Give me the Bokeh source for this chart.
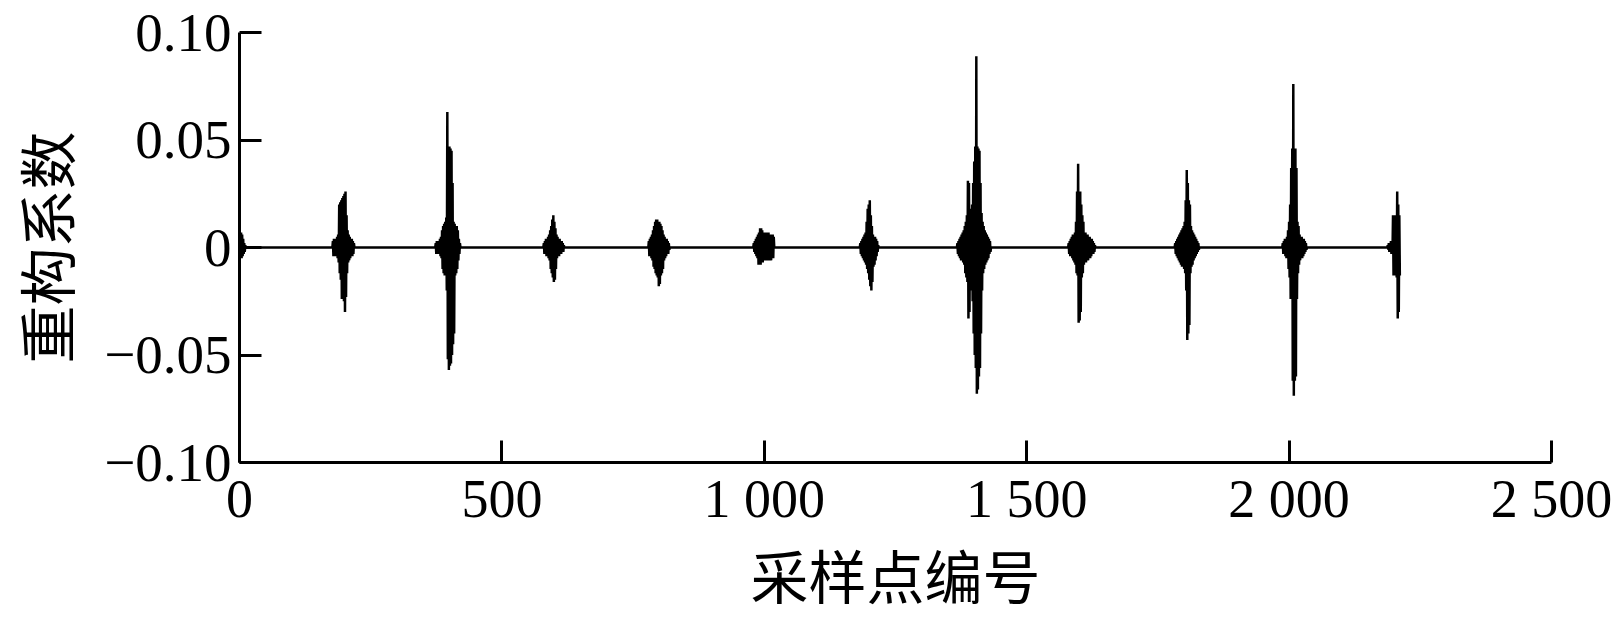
from bokeh.plotting import figure
from bokeh.models import Range1d, FixedTicker, ColumnDataSource
from bokeh.embed import file_html
from bokeh.resources import INLINE

# ---- data ----
x_ticks = [0, 500, 1000, 1500, 2000, 2500]
x_tick_labels = ["0", "500", "1 000", "1 500", "2 000", "2 500"]
y_ticks = [-0.1, -0.05, 0, 0.05, 0.1]
y_tick_labels = ["\u22120.10", "\u22120.05", "0", "0.05", "0.10"]
x_title = "采样点编号"
y_title = "重构系数"

burst_starts = [0, 177, 373, 579, 779, 979, 1182, 1367, 1579, 1782, 1987, 2187]

burst_0 = [0, 0.007, -0.005, 0.007, -0.005, 0.006, -0.004, 0.004, -0.003, 0.002, -0.002, 0.001, 0]
burst_200 = [0, 0.003, -0.004, 0.004, -0.004, 0.004, -0.004, 0.004, -0.004, 0.005, -0.005,
             0.006, -0.007, 0.020, -0.012, 0.021, -0.015, 0.022, -0.024, 0.023, -0.024,
             0.024, -0.025, 0.025, -0.030, 0.026, -0.023, 0.015, -0.012, 0.008, -0.007,
             0.006, -0.006, 0.005, -0.005, 0.004, -0.004, 0.004, -0.004, 0.003, -0.003,
             0.002, 0]
burst_400 = [0, 0.002, -0.003, 0.003, -0.003, 0.003, -0.003, 0.003, -0.003, 0.004, -0.004,
             0.005, -0.005, 0.008, -0.010, 0.010, -0.012, 0.011, -0.013, 0.012, -0.013,
             0.014, -0.020, 0.063, -0.052, 0.047, -0.057, 0.047, -0.055, 0.046, -0.054,
             0.045, -0.050, 0.030, -0.045, 0.012, -0.040, 0.011, -0.013, 0.010, -0.012,
             0.010, -0.010, 0.008, -0.006, 0.004, -0.003, 0.002, 0]
burst_600 = [0, 0.002, -0.003, 0.003, -0.003, 0.004, -0.004, 0.004, -0.004, 0.005, -0.005,
             0.006, -0.006, 0.008, -0.010, 0.010, -0.012, 0.013, -0.014, 0.015, -0.016,
             0.012, -0.015, 0.009, -0.010, 0.006, -0.005, 0.005, -0.004, 0.004, -0.004,
             0.004, -0.003, 0.003, -0.003, 0.003, -0.002, 0.002, -0.002, 0.001, 0]
burst_800 = [0, 0.003, -0.004, 0.004, -0.004, 0.005, -0.005, 0.006, -0.006, 0.008, -0.009,
             0.010, -0.010, 0.012, -0.012, 0.013, -0.013, 0.013, -0.014, 0.012, -0.018,
             0.012, -0.017, 0.011, -0.013, 0.010, -0.012, 0.008, -0.010, 0.006, -0.006,
             0.005, -0.005, 0.004, -0.004, 0.004, -0.003, 0.003, -0.003, 0.002, -0.001, 0]
burst_1000 = [0, 0.002, -0.002, 0.003, -0.003, 0.004, -0.004, 0.005, -0.005, 0.006, -0.008,
              0.007, -0.008, 0.009, -0.008, 0.009, -0.007, 0.008, -0.007, 0.007, -0.006,
              0.007, -0.006, 0.007, -0.006, 0.007, -0.006, 0.007, -0.006, 0.007, -0.006,
              0.006, -0.006, 0.006, -0.006, 0.006, -0.005, 0.006, -0.005, 0.005, 0]
burst_1200 = [0, 0.002, -0.003, 0.003, -0.004, 0.004, -0.005, 0.005, -0.006, 0.006, -0.007,
              0.007, -0.008, 0.012, -0.010, 0.018, -0.012, 0.020, -0.015, 0.022, -0.018,
              0.015, -0.020, 0.010, -0.016, 0.006, -0.009, 0.005, -0.008, 0.005, -0.006,
              0.004, -0.004, 0.003, -0.002, 0.001, 0]
burst_1400 = [0, 0.002, -0.003, 0.003, -0.004, 0.004, -0.005, 0.005, -0.006, 0.006, -0.006,
              0.007, -0.007, 0.008, -0.008, 0.010, -0.012, 0.012, -0.014, 0.015, -0.016,
              0.031, -0.033, 0.030, -0.030, 0.016, -0.018, 0.018, -0.020, 0.020, -0.025,
              0.030, -0.040, 0.040, -0.050, 0.047, -0.056, 0.089, -0.068, 0.047, -0.066,
              0.046, -0.060, 0.045, -0.056, 0.030, -0.040, 0.016, -0.020, 0.012, -0.012,
              0.010, -0.010, 0.008, -0.008, 0.007, -0.007, 0.006, -0.006, 0.005, -0.005,
              0.004, -0.003, 0.003, -0.002, 0]
burst_1600 = [0, 0.002, -0.003, 0.003, -0.004, 0.004, -0.004, 0.005, -0.005, 0.006, -0.006,
              0.006, -0.007, 0.007, -0.008, 0.012, -0.012, 0.026, -0.013, 0.039, -0.035,
              0.026, -0.034, 0.026, -0.030, 0.020, -0.014, 0.015, -0.012, 0.012, -0.008,
              0.007, -0.007, 0.007, -0.007, 0.006, -0.006, 0.006, -0.006, 0.005, -0.005,
              0.005, -0.005, 0.004, -0.004, 0.004, -0.003, 0.003, -0.003, 0.002, -0.002,
              0.001, 0]
burst_1800 = [0, 0.002, -0.003, 0.003, -0.004, 0.004, -0.005, 0.005, -0.006, 0.006, -0.007,
              0.007, -0.008, 0.008, -0.009, 0.009, -0.009, 0.010, -0.010, 0.012, -0.012,
              0.022, -0.020, 0.036, -0.043, 0.030, -0.040, 0.022, -0.036, 0.020, -0.012,
              0.010, -0.009, 0.008, -0.008, 0.007, -0.006, 0.006, -0.005, 0.005, -0.004,
              0.004, -0.003, 0.003, -0.002, 0.002, -0.001, 0]
burst_2000 = [0, 0.002, -0.003, 0.003, -0.003, 0.004, -0.004, 0.004, -0.005, 0.005, -0.005,
              0.008, -0.010, 0.012, -0.014, 0.020, -0.024, 0.037, -0.024, 0.046, -0.062,
              0.076, -0.069, 0.046, -0.062, 0.046, -0.060, 0.037, -0.024, 0.012, -0.012,
              0.010, -0.008, 0.006, -0.006, 0.005, -0.005, 0.005, -0.005, 0.004, -0.004,
              0.004, -0.003, 0.003, -0.002, 0.002, -0.001, 0]
burst_2200 = [0, 0.001, -0.001, 0.002, -0.002, 0.002, -0.002, 0.003, -0.003, 0.003, -0.003,
              0.015, -0.013, 0.015, -0.013, 0.015, -0.013, 0.015, -0.014, 0.026, -0.033,
              0.020, -0.030, 0.015, -0.013]

bursts = [burst_0, burst_200, burst_400, burst_600, burst_800, burst_1000,
          burst_1200, burst_1400, burst_1600, burst_1800, burst_2000, burst_2200]

xs, ys = [], []
for start, vals in zip(burst_starts, bursts):
    for i, v in enumerate(vals):
        xs.append(start + i)
        ys.append(v)

source = ColumnDataSource(data=dict(x=xs, y=ys))

# ---- figure ----
p = figure(width=1616, height=618,
           x_range=Range1d(0, 2500), y_range=Range1d(-0.1, 0.1),
           output_backend="svg", toolbar_location=None,
           min_border_left=238, min_border_right=65,
           min_border_top=32, min_border_bottom=155)

p.line("x", "y", source=source, line_color="black", line_width=2.5)

p.grid.visible = False
p.outline_line_color = None
p.background_fill_color = "white"
p.border_fill_color = "white"

p.xaxis.ticker = FixedTicker(ticks=x_ticks)
p.xaxis.major_label_overrides = dict(zip(x_ticks, x_tick_labels))
p.yaxis.ticker = FixedTicker(ticks=y_ticks)
p.yaxis.major_label_overrides = dict(zip(y_ticks, y_tick_labels))

for ax in (p.xaxis, p.yaxis):
    ax.axis_line_width = 3
    ax.axis_line_color = "black"
    ax.major_tick_line_width = 3
    ax.major_tick_line_color = "black"
    ax.major_tick_in = 22
    ax.major_tick_out = 0
    ax.minor_tick_line_color = None
    ax.major_label_text_font = "Liberation Serif"
    ax.major_label_text_color = "black"
    ax.axis_label_text_font = "Noto Sans CJK SC"
    ax.axis_label_text_font_size = "58px"
    ax.axis_label_text_font_style = "normal"
    ax.axis_label_text_color = "black"

p.xaxis.axis_label = x_title
p.yaxis.axis_label = y_title
p.xaxis.major_label_text_font_size = "54px"
p.yaxis.major_label_text_font_size = "55px"
p.xaxis.major_label_standoff = 6
p.xaxis.axis_label_standoff = 0
p.yaxis.major_label_standoff = 8
p.yaxis.axis_label_standoff = 14

open("out.html", "w").write(file_html(p, INLINE))
